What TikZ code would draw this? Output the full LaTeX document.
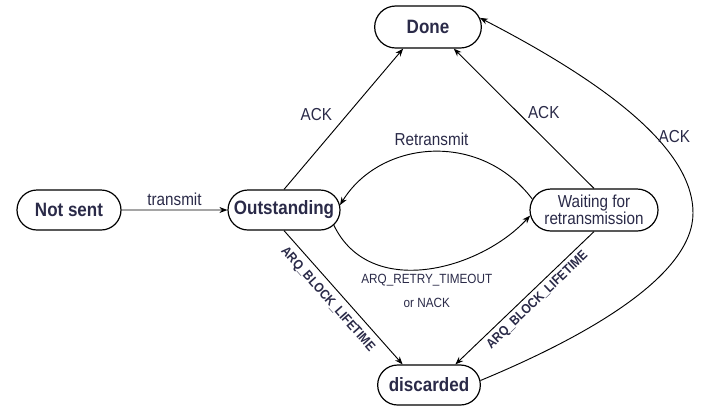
\documentclass[tikz,border=0pt]{standalone}
\usepackage{fontspec}
\setmainfont[FakeStretch=0.88]{Liberation Sans}
\usetikzlibrary{shapes.misc,arrows.meta}
\definecolor{txt}{RGB}{42,42,72}
\begin{document}
\begin{tikzpicture}[x=0.75pt,y=-0.75pt,
  state/.style={draw, line width=0.9pt, rounded rectangle, minimum height=30pt, inner sep=0pt, text=txt, font=\fontsize{14.5}{16}\selectfont\bfseries},
  arr/.style={-{Stealth[length=6pt,width=4.5pt]}, line width=0.7pt},
  lbl/.style={text=txt, font=\fontsize{13}{15}\selectfont, inner sep=1pt},
  small/.style={text=txt, font=\fontsize{10}{18}\selectfont, inner sep=1pt},
  life/.style={text=txt, font=\fontsize{10}{12}\selectfont\bfseries, sloped, inner sep=0pt}]
\useasboundingbox (0,0) rectangle (702,408);

\node[state, minimum width=78pt] (ns) at (69,210) {Not sent};
\node[state, minimum width=84pt] (out) at (284,210) {Outstanding};
\node[state, minimum width=80pt, minimum height=31.5pt] (done) at (428,27) {Done};
\node[state, minimum width=96pt, minimum height=31.5pt, font=\fontsize{13}{10.5}\selectfont, align=center] (wait) at (594,210) {Waiting for\\retransmission};
\node[state, minimum width=77pt] (disc) at (429,385) {discarded};

\draw[arr] (ns) -- node[lbl, above=2pt] {transmit} (out);
\draw[arr] (out.north) -- node[lbl, pos=0.53, left=10pt] {ACK} (done.221);
\draw[arr] (wait.north) -- node[lbl, pos=0.54, right=6pt] {ACK} (done.320);
\draw[arr] (out.south) -- node[life, pos=0.45, below=5pt] {ARQ\_BLOCK\_LIFETIME} (disc.142);
\draw[arr] (wait.south) -- node[life, pos=0.46, below=3pt] {ARQ\_BLOCK\_LIFETIME} (disc.38);
\draw[arr] (wait.170) .. controls (480,130) and (380,140) .. node[lbl, above=3pt] {Retransmit} (out.5);
\draw[arr] (out.343) .. controls (370,300) and (480,270) .. node[small, below=3pt, align=center] {ARQ\_RETRY\_TIMEOUT\\or NACK} (wait.185);
\draw[arr] (disc.5) .. controls (590,335) and (693,275) .. (693,213) .. controls (693,150) and (610,85) .. node[lbl, pos=0.4, right=1pt] {ACK} (done.10);
\end{tikzpicture}
\end{document}
